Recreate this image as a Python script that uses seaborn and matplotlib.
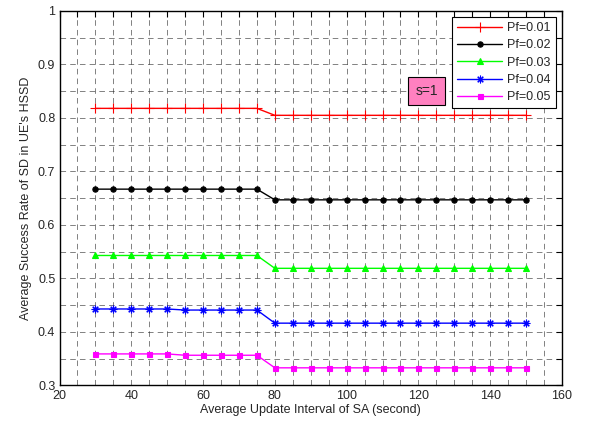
import matplotlib
matplotlib.use("Agg")
import matplotlib.pyplot as plt
from matplotlib.ticker import MultipleLocator, FuncFormatter
import seaborn as sns
import pandas as pd

x_interval = [30, 35, 40, 45, 50, 55, 60, 65, 70, 75, 80, 85, 90, 95, 100,
              105, 110, 115, 120, 125, 130, 135, 140, 145, 150]

pf_001 = [0.818, 0.818, 0.818, 0.818, 0.818, 0.818, 0.818, 0.818, 0.818, 0.818,
          0.805, 0.805, 0.805, 0.805, 0.805, 0.805, 0.805, 0.805, 0.805, 0.805,
          0.805, 0.805, 0.805, 0.805, 0.805]
pf_002 = [0.667, 0.667, 0.667, 0.667, 0.667, 0.667, 0.667, 0.667, 0.667, 0.667,
          0.647, 0.647, 0.647, 0.647, 0.647, 0.647, 0.647, 0.647, 0.647, 0.647,
          0.647, 0.647, 0.647, 0.647, 0.647]
pf_003 = [0.543, 0.543, 0.543, 0.543, 0.543, 0.543, 0.543, 0.543, 0.543, 0.543,
          0.519, 0.519, 0.519, 0.519, 0.519, 0.519, 0.519, 0.519, 0.519, 0.519,
          0.519, 0.519, 0.519, 0.519, 0.519]
pf_004 = [0.443, 0.443, 0.443, 0.443, 0.443, 0.441, 0.441, 0.441, 0.441, 0.441,
          0.4165, 0.4165, 0.4165, 0.4165, 0.4165, 0.4165, 0.4165, 0.4165, 0.4165,
          0.4165, 0.4165, 0.4165, 0.4165, 0.4165, 0.4165]
pf_005 = [0.359, 0.359, 0.359, 0.359, 0.359, 0.3565, 0.3565, 0.3565, 0.3565, 0.3565,
          0.333, 0.333, 0.333, 0.333, 0.333, 0.333, 0.333, 0.333, 0.333, 0.333,
          0.333, 0.333, 0.333, 0.333, 0.333]

series_labels = ["Pf=0.01", "Pf=0.02", "Pf=0.03", "Pf=0.04", "Pf=0.05"]
series_values = [pf_001, pf_002, pf_003, pf_004, pf_005]
series_colors = ["#FF0000", "#000000", "#00FF00", "#0000FF", "#FF00FF"]
series_markers = ["+", "o", "^", (8, 2, 0), "s"]

annotation_text = "s=1"
x_label = "Average Update Interval of SA (second)"
y_label = "Average Success Rate of SD in UE's HSSD"

sns.set_theme(style="white")
plt.rcParams["font.family"] = ["Liberation Sans", "DejaVu Sans"]
plt.rcParams["lines.scale_dashes"] = False

fig = plt.figure(figsize=(5.95, 4.23), dpi=100)
ax = fig.add_axes([0.100, 0.0887, 0.8445, 0.8853])

marker_sizes = {"+": 6.5, "o": 3.8, "^": 4.2, "s": 3.6}
for lab, vals, col, mk in zip(series_labels, series_values, series_colors, series_markers):
    df = pd.DataFrame({"x": x_interval, "y": vals})
    ms = marker_sizes.get(mk, 5.5) if isinstance(mk, str) else 5.5
    sns.lineplot(data=df, x="x", y="y", ax=ax, color=col, marker=mk,
                 markersize=ms, markeredgecolor=col, markerfacecolor=col,
                 markeredgewidth=0.8, linewidth=1.0, label=lab, zorder=5)

ax.set_xlim(20, 160)
ax.set_ylim(0.3, 1.0)
ax.xaxis.set_major_locator(MultipleLocator(20))
ax.xaxis.set_minor_locator(MultipleLocator(5))
ax.yaxis.set_major_locator(MultipleLocator(0.1))
ax.yaxis.set_minor_locator(MultipleLocator(0.05))
ax.yaxis.set_major_formatter(FuncFormatter(lambda v, p: "1" if abs(v - 1) < 1e-9 else f"{v:.1f}"))

ax.grid(True, which="both", color="#222222", linestyle=(0, (4.0, 3.0)), linewidth=0.5, alpha=0.8)
ax.set_axisbelow(True)
ax.tick_params(which="both", direction="in", top=True, right=True, length=4,
               width=0.8, color="black", labelsize=9)
ax.tick_params(axis="x", pad=3)
ax.tick_params(axis="y", pad=3)
for s in ax.spines.values():
    s.set_color("black")
    s.set_linewidth(1.0)

ax.set_xlabel(x_label, fontsize=9, labelpad=2)
ax.set_ylabel(y_label, fontsize=9, labelpad=4)

ax.text(122.3, 0.85, annotation_text, ha="center", va="center", fontsize=10,
        bbox=dict(boxstyle="square,pad=0.5", facecolor="#FF80C0", edgecolor="black", linewidth=0.8),
        zorder=6)

leg = ax.legend(loc="upper right", fontsize=9, frameon=True, fancybox=False, shadow=False,
                handlelength=3.6, borderpad=0.4, labelspacing=0.42, borderaxespad=0.5,
                handletextpad=0.4)
leg.get_frame().set_edgecolor("black")
leg.get_frame().set_linewidth(0.8)
leg.get_frame().set_alpha(1)

fig.savefig("out.png", dpi=100)
